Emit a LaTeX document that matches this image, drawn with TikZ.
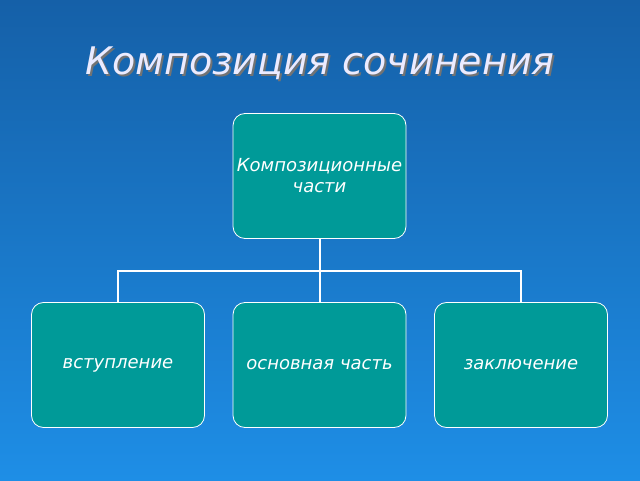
\documentclass[tikz,border=0pt]{standalone}
\usepackage{fontspec}
\setmainfont{DejaVu Sans}
\usetikzlibrary{trees}
\definecolor{bgtop}{HTML}{1560A8}
\definecolor{bgbottom}{HTML}{1E8EE6}
\definecolor{boxteal}{HTML}{009A98}
\tikzset{
  part/.style={draw=white, line width=0.8pt, fill=boxteal, rounded corners=12pt,
    minimum width=173pt, minimum height=125pt, align=center, text=white,
    font=\fontsize{18}{21}\selectfont\itshape, inner sep=0pt},
}
\begin{document}
\begin{tikzpicture}[x=1pt,y=1pt,
  level/.style={sibling distance=201.5pt, level distance=189pt},
  edge from parent fork down,
  edge from parent/.style={draw=white, line width=2pt}]
\fill[top color=bgtop, bottom color=bgbottom] (0,0) rectangle (640,480);
\useasboundingbox (0,0) rectangle (640,480);
% title
\node (title) at (322,415) {\fontsize{38}{42}\selectfont\itshape\color{black!55}Композиция сочинения};
\node at (320,417) {\fontsize{38}{42}\selectfont\itshape\color{white!92!blue}Композиция сочинения};
% tree
\node [part] (parts) at (319.5,304) {Композиционные\\части}
  child {node [part] (intro) {вступление}}
  child {node [part] (body) {основная часть}}
  child {node [part] (outro) {заключение}};
\end{tikzpicture}
\end{document}
